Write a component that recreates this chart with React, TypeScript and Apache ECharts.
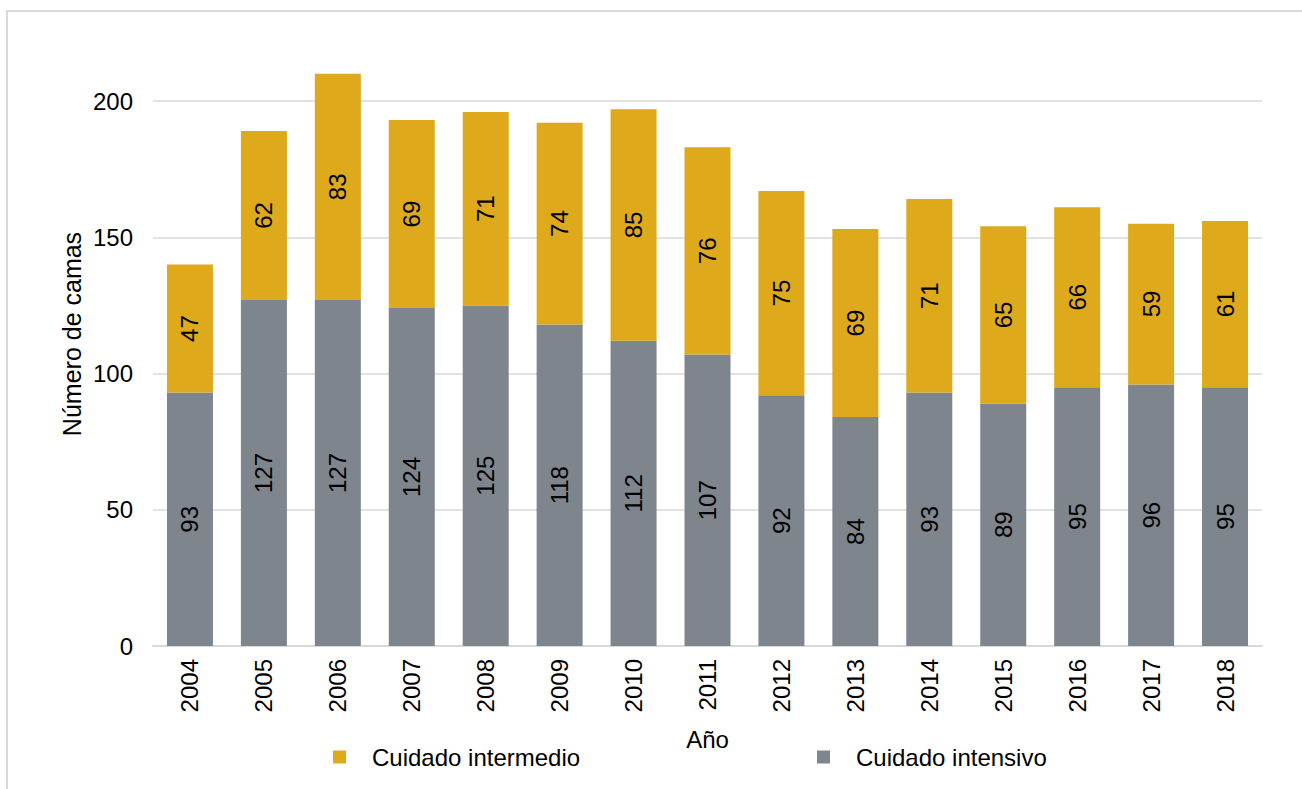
import React, { useEffect, useRef } from "react";
import * as echarts from "echarts";

const years = ["2004","2005","2006","2007","2008","2009","2010","2011","2012","2013","2014","2015","2016","2017","2018"];
const intensivo = [93,127,127,124,125,118,112,107,92,84,93,89,95,96,95];
const intermedio = [47,62,83,69,71,74,85,76,75,69,71,65,66,59,61];
const yTicks = { min: 0, max: 200, interval: 50 };

const FONT = "Arial, 'Liberation Sans', sans-serif";
const YELLOW = "#DEA91B";
const GRAY = "#7E858D";
const LINE = "#D9D9D9";

export default function App() {
  const ref = useRef<HTMLDivElement>(null);
  useEffect(() => {
    if (!ref.current) return;
    const chart = echarts.init(ref.current, null, { renderer: "svg" });
    const labelStyle = {
      show: true,
      position: "inside",
      rotate: 90,
      color: "#000",
      fontSize: 24,
      fontFamily: FONT,
    };
    const legendText = { color: "#000", fontSize: 24, fontFamily: FONT, lineHeight: 24, padding: [0, 0, 0, 21] };
    chart.setOption({
      animation: false,
      backgroundColor: "#fff",
      textStyle: { fontFamily: FONT },
      grid: { left: 153, right: 40, top: 101, bottom: 143, containLabel: false },
      xAxis: {
        type: "category",
        data: years,
        axisLine: { lineStyle: { color: LINE, width: 2 } },
        axisTick: { show: false },
        axisLabel: { rotate: 90, margin: 13, color: "#000", fontSize: 24, fontFamily: FONT },
      },
      yAxis: {
        type: "value",
        min: yTicks.min,
        max: yTicks.max,
        interval: yTicks.interval,
        axisLine: { show: false },
        axisTick: { show: false },
        axisLabel: { margin: 20, color: "#000", fontSize: 24, fontFamily: FONT },
        splitLine: { lineStyle: { color: LINE, width: 1.5 } },
      },
      legend: [
        {
          data: ["Cuidado intermedio"],
          left: 333,
          top: 745,
          padding: 0,
          itemWidth: 13,
          itemHeight: 13,
          icon: "rect",
          textStyle: legendText,
        },
        {
          data: ["Cuidado intensivo"],
          left: 817,
          top: 745,
          padding: 0,
          itemWidth: 13,
          itemHeight: 13,
          icon: "rect",
          textStyle: legendText,
        },
      ],
      graphic: [
        {
          type: "rect",
          shape: { x: 7, y: 11, width: 1400, height: 900 },
          style: { fill: "none", stroke: LINE, lineWidth: 2 },
          silent: true,
          z: -10,
        },
        {
          type: "text",
          x: 72,
          y: 334,
          rotation: Math.PI / 2,
          style: {
            text: "Número de camas",
            fontSize: 25,
            fontFamily: FONT,
            fill: "#000",
            textAlign: "center",
            textVerticalAlign: "middle",
          },
        },
        {
          type: "text",
          x: 707.5,
          y: 739,
          style: {
            text: "Año",
            fontSize: 24,
            fontFamily: FONT,
            fill: "#000",
            textAlign: "center",
            textVerticalAlign: "middle",
          },
        },
      ],
      series: [
        {
          name: "Cuidado intensivo",
          type: "bar",
          stack: "total",
          data: intensivo,
          barWidth: 46,
          clip: false,
          itemStyle: { color: GRAY },
          label: labelStyle,
        },
        {
          name: "Cuidado intermedio",
          type: "bar",
          stack: "total",
          data: intermedio,
          barWidth: 46,
          clip: false,
          itemStyle: { color: YELLOW },
          label: labelStyle,
        },
      ],
    });
    return () => chart.dispose();
  }, []);
  return <div ref={ref} style={{ position: "absolute", left: 0, top: 0, width: 1302, height: 789 }} />;
}
